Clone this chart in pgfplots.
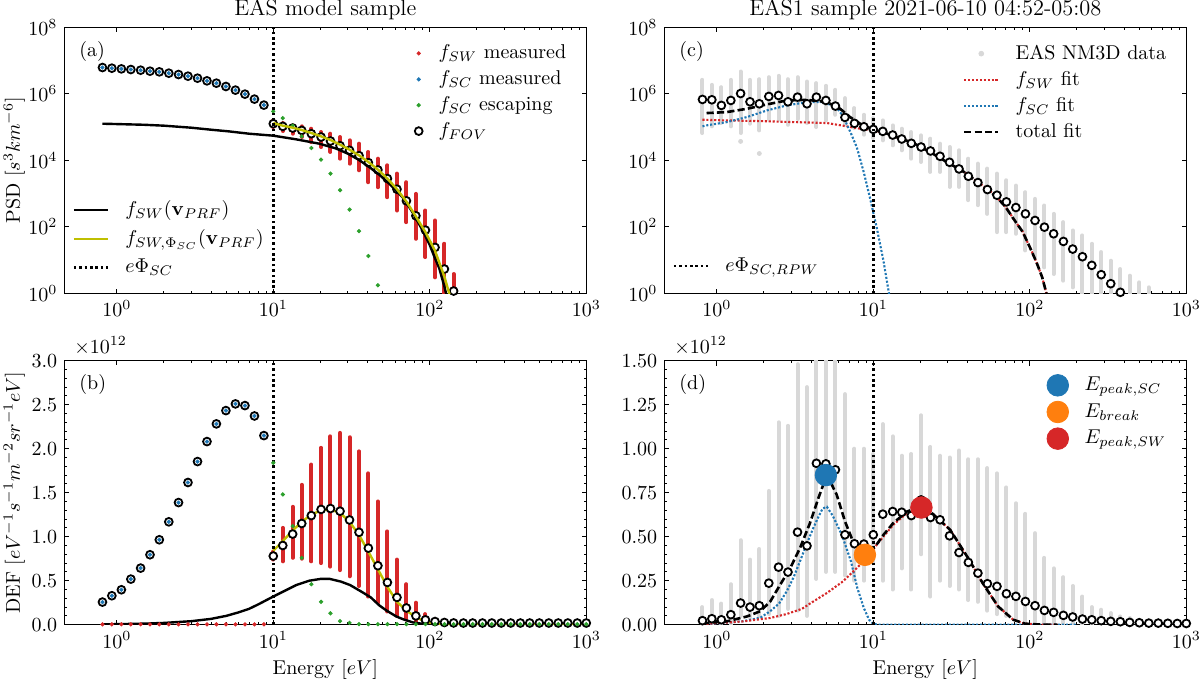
\documentclass[border=0pt]{standalone}
\usepackage{pgfplots}
\pgfplotsset{compat=1.18}
\definecolor{tabred}{RGB}{214,39,40}
\definecolor{tabblue}{RGB}{31,119,180}
\definecolor{tabgreen}{RGB}{44,160,44}
\definecolor{taborange}{RGB}{255,127,14}
\definecolor{yel}{RGB}{191,191,0}
\definecolor{lgrey}{RGB}{216,216,216}
\pgfplotsset{every axis/.append style={
   scale only axis, width=261pt, xmode=log, xmin=0.462, xmax=1000,
   xtick={1,10,100,1000}, tick align=inside,
   major tick length=2.4pt, minor tick length=1.3pt,
   every tick/.style={black, line width=0.5pt},
   axis line style={line width=0.6pt},
   tick label style={font=\normalsize},
   ylabel style={at={(-0.096,0.5)}, anchor=center},
   xlabel style={at={(0.5,0)}, anchor=center, yshift=-22.5pt},
   legend cell align=left,
   legend style={draw=none, fill=none, font=\normalsize, row sep=0.5pt, inner sep=0pt,
     /tikz/every odd column/.append style={column sep=6pt}}}}
\tikzset{
 myFov/.style={only marks, mark=*, mark size=1.95pt, mark options={fill=white, draw=black, line width=0.9pt}},
 myDot/.style={only marks, mark=*, mark size=0.85pt},
 myRedbar/.style={tabred, line width=2pt, line cap=round},
 myGreybar/.style={lgrey, line width=2pt, line cap=round},
 myRdot/.style={tabred, line width=1.05pt, dash pattern=on 1.05pt off 0.9pt},
 myBdot/.style={tabblue, line width=1.05pt, dash pattern=on 1.05pt off 0.9pt},
 myTdash/.style={black, line width=1.3pt, dash pattern=on 3.6pt off 1.6pt},
 myVdot/.style={black, line width=1.3pt, dash pattern=on 1.3pt off 1.4pt},
 myTitle/.style={anchor=base, font=\fontsize{11.2}{13}\selectfont},
}
\begin{document}
\begin{tikzpicture}
\useasboundingbox (0,0) rectangle (600pt,-339.5pt);

%%%%%%%%%%%%%%%%%%%% (a)
\begin{axis}[name=a, at={(32.15pt,-13.65pt)}, anchor=north west,
  height=133pt, ymode=log, ymin=1, ymax=1e8, ytick={1,1e2,1e4,1e6,1e8},
  ylabel={PSD $[s^3km^{-6}]$},
  legend style={at={(0.97,0.95)}, anchor=north east}]
\addplot[myRedbar, unbounded coords=jump, forget plot] coordinates {
(10,1.00e5) (10,1.58e5) (10,nan)
(11.5,7.59e4) (11.5,1.32e5) (11.5,nan)
(13.3,6.31e4) (13.3,1.12e5) (13.3,nan)
(15.2,5.01e4) (15.2,1.05e5) (15.2,nan)
(17.5,3.55e4) (17.5,8.91e4) (17.5,nan)
(20.2,2.51e4) (20.2,7.08e4) (20.2,nan)
(23.2,1.78e4) (23.2,6.31e4) (23.2,nan)
(26.7,1.12e4) (26.7,5.01e4) (26.7,nan)
(30.7,7.94e3) (30.7,3.98e4) (30.7,nan)
(35.3,5.01e3) (35.3,3.16e4) (35.3,nan)
(40.5,2.19e3) (40.5,1.78e4) (40.5,nan)
(46.6,1.55e3) (46.6,1.12e4) (46.6,nan)
(53.6,776) (53.6,7.08e3) (53.6,nan)
(61.7,309) (61.7,3.98e3) (61.7,nan)
(70.9,138) (70.9,2.19e3) (70.9,nan)
(81.5,43.7) (81.5,977) (81.5,nan)
(93.8,12.3) (93.8,309) (93.8,nan)
(108,3.02) (108,155) (108,nan)
(124,0.79) (124,30.9) (124,nan)
(142,0.32) (142,3.80)};
\addplot[myFov, forget plot] coordinates {
(0.81,6.17e6) (0.93,5.89e6) (1.07,5.62e6) (1.23,5.37e6) (1.42,5.13e6) (1.63,4.79e6)
(1.87,4.57e6) (2.15,4.17e6) (2.48,3.80e6) (2.85,3.39e6) (3.28,2.95e6) (3.77,2.45e6)
(4.33,2.09e6) (4.98,1.66e6) (5.73,1.29e6) (6.59,9.77e5) (7.58,6.92e5) (8.71,4.57e5)
(10.0,1.26e5) (11.5,1.05e5) (13.3,9.33e4) (15.2,7.94e4) (17.5,6.31e4) (20.2,5.01e4)
(23.2,3.80e4) (26.7,2.75e4) (30.7,2.00e4) (35.3,1.38e4) (40.5,8.51e3) (46.6,5.13e3)
(53.6,2.82e3) (61.7,1.35e3) (70.9,603) (81.5,214) (93.8,79.4) (108,24.0) (124,5.37) (142,1.17)};
\addplot[myDot, tabblue, forget plot] coordinates {
(0.81,6.17e6) (0.93,5.89e6) (1.07,5.62e6) (1.23,5.37e6) (1.42,5.13e6) (1.63,4.79e6)
(1.87,4.57e6) (2.15,4.17e6) (2.48,3.80e6) (2.85,3.39e6) (3.28,2.95e6) (3.77,2.45e6)
(4.33,2.09e6) (4.98,1.66e6) (5.73,1.29e6) (6.59,9.77e5) (7.58,6.92e5) (8.71,4.57e5)};
\addplot[myDot, tabgreen, forget plot] coordinates {
(10,2.95e5) (11.5,1.86e5) (13.3,1.10e5) (15.2,5.25e4) (17.5,2.34e4) (20.2,1.05e4)
(23.2,3.98e3) (26.7,1.26e3) (30.7,331) (35.3,74.1) (40.5,13.2) (46.6,1.74)};
\addlegendimage{myDot, tabred}\addlegendentry{$f_{SW}$ measured}
\addlegendimage{myDot, tabblue}\addlegendentry{$f_{SC}$ measured}
\addlegendimage{myDot, tabgreen}\addlegendentry{$f_{SC}$ escaping}
\addlegendimage{myFov}\addlegendentry{$f_{FOV}$}
\end{axis}
\begin{axis}[hide axis, at={(32.15pt,-13.65pt)}, anchor=north west,
  height=133pt, ymode=log, ymin=1, ymax=1e8,
  legend style={at={(0.015,0.05)}, anchor=south west, row sep=1.5pt}]
\addplot[black, line width=1.2pt] coordinates {
(0.81,1.26e5) (1.0,1.23e5) (1.5,1.17e5) (2,1.10e5) (3,9.55e4) (4,8.32e4) (5.2,7.41e4)
(7,6.31e4) (10,5.50e4) (14,4.27e4) (19.7,3.16e4) (25,2.29e4) (30,1.58e4) (35,1.05e4)
(41,6.31e3) (48,3.55e3) (55,2.00e3) (67,776) (78,263) (90,77.6) (100,28.2) (108,11.2)
(115,5.62) (124,1.58) (130,0.63) (135,0.3)};
\addlegendentry{$f_{SW}(\mathbf{v}_{PRF})$}
\addplot[yel, line width=1.2pt] coordinates {
(10,1.32e5) (11.5,1.10e5) (13.3,9.55e4) (15.2,8.13e4) (17.5,6.61e4) (20.2,5.25e4)
(23.2,4.07e4) (26.7,2.95e4) (30.7,2.09e4) (35.3,1.41e4) (40.5,8.91e3) (46.6,5.25e3)
(53.6,2.82e3) (61.7,1.35e3) (70.9,575) (81.5,204) (93.8,69.2) (108,19.1) (124,3.16)
(133,1.0) (140,0.4)};
\addlegendentry{$f_{SW,\Phi_{SC}}(\mathbf{v}_{PRF})$}
\addplot[myVdot] coordinates {(10,1) (10,1e8)};
\addlegendentry{$e\Phi_{SC}$}
\end{axis}
\node[anchor=north west] at ([xshift=4pt,yshift=-3.5pt]a.north west) {(a)};
\node[myTitle] at ([yshift=6pt]a.north) {EAS model sample};

%%%%%%%%%%%%%%%%%%%% (b)
\begin{axis}[name=b, at={(32.15pt,-180.35pt)}, anchor=north west, height=132pt,
  ymin=0, ymax=3, ytick={0,0.5,1,1.5,2,2.5,3}, minor y tick num=4,
  yticklabel style={/pgf/number format/.cd, fixed, fixed zerofill, precision=1},
  ylabel={DEF $[eV^{-1}s^{-1}m^{-2}sr^{-1}eV]$}, xlabel={Energy $[eV]$}]
\addplot[myRedbar, unbounded coords=jump, forget plot] coordinates {
(10,0.74) (10,0.83) (10,nan)
(11.5,0.72) (11.5,1.10) (11.5,nan)
(13.3,0.76) (13.3,1.34) (13.3,nan)
(15.2,0.75) (15.2,1.59) (15.2,nan)
(17.5,0.72) (17.5,1.82) (17.5,nan)
(20.2,0.70) (20.2,2.01) (20.2,nan)
(23.2,0.66) (23.2,2.14) (23.2,nan)
(26.7,0.62) (26.7,2.18) (26.7,nan)
(30.7,0.55) (30.7,2.13) (30.7,nan)
(35.3,0.44) (35.3,1.97) (35.3,nan)
(40.5,0.32) (40.5,1.72) (40.5,nan)
(46.6,0.25) (46.6,1.40) (46.6,nan)
(53.6,0.15) (53.6,1.06) (53.6,nan)
(61.7,0.10) (61.7,0.74) (61.7,nan)
(70.9,0.06) (70.9,0.46) (70.9,nan)
(81.5,0.03) (81.5,0.25) (81.5,nan)
(93.8,0.02) (93.8,0.12) (93.8,nan)
(108,0.01) (108,0.06) (108,nan)
(124,0.005) (124,0.03)};
\addplot[myDot, tabred, forget plot] coordinates {
(0.81,0.004) (0.93,0.004) (1.07,0.004) (1.23,0.004) (1.42,0.004) (1.63,0.004)
(1.87,0.004) (2.15,0.004) (2.48,0.004) (2.85,0.004) (3.28,0.004) (3.77,0.004)
(4.33,0.004) (4.98,0.004) (5.73,0.004) (6.59,0.004) (7.58,0.004) (8.71,0.004)};
\addplot[myFov, forget plot] coordinates {
(0.81,0.257) (0.93,0.329) (1.07,0.397) (1.23,0.518) (1.42,0.643) (1.63,0.795)
(1.87,0.965) (2.15,1.169) (2.48,1.388) (2.85,1.616) (3.28,1.854) (3.77,2.081)
(4.33,2.282) (4.98,2.433) (5.73,2.509) (6.59,2.490) (7.58,2.372) (8.71,2.149)
(10,0.78) (11.5,0.90) (13.3,1.03) (15.2,1.15) (17.5,1.24) (20.2,1.31) (23.2,1.32)
(26.7,1.29) (30.7,1.19) (35.3,1.05) (40.5,0.87) (46.6,0.67) (53.6,0.48) (61.7,0.31)
(70.9,0.19) (81.5,0.10) (93.8,0.055) (108,0.036) (124,0.025) (142,0.02) (164,0.019)
(188,0.019) (217,0.019) (249,0.019) (286,0.019) (329,0.019) (379,0.019) (435,0.019)
(501,0.019) (576,0.019) (662,0.019) (762,0.019) (876,0.019) (1000,0.019)};
\addplot[myDot, tabblue, forget plot] coordinates {
(0.81,0.257) (0.93,0.329) (1.07,0.397) (1.23,0.518) (1.42,0.643) (1.63,0.795)
(1.87,0.965) (2.15,1.169) (2.48,1.388) (2.85,1.616) (3.28,1.854) (3.77,2.081)
(4.33,2.282) (4.98,2.433) (5.73,2.509) (6.59,2.490) (7.58,2.372) (8.71,2.149)};
\addplot[myDot, tabgreen, forget plot] coordinates {
(10,1.84) (11.5,1.48) (13.3,1.12) (15.2,0.76) (17.5,0.46) (20.2,0.26) (23.2,0.13)
(26.7,0.04) (30.7,0.02) (35.3,0.006) (40.5,0.006) (46.6,0.006) (53.6,0.006) (61.7,0.006)
(70.9,0.006) (81.5,0.006) (93.8,0.006) (108,0.006) (124,0.006) (142,0.006) (164,0.006)
(188,0.006) (217,0.006) (249,0.006) (286,0.006) (329,0.006) (379,0.006) (435,0.006)
(501,0.006) (576,0.006) (662,0.006) (762,0.006) (876,0.006) (1000,0.006)};
\addplot[black, line width=1.2pt, forget plot] coordinates {
(0.81,0.004) (1.0,0.006) (1.5,0.012) (2,0.02) (3,0.04) (4,0.066) (5,0.10) (6,0.14)
(7,0.18) (8,0.23) (10,0.32) (12,0.39) (14,0.45) (17,0.50) (20,0.52) (23,0.52) (27,0.49)
(31,0.45) (37,0.37) (42,0.31) (47.5,0.22) (53,0.16) (61,0.094) (68,0.06) (78,0.026)
(90,0.01) (110,0.002) (150,0) (1000,0)};
\addplot[yel, line width=1.2pt, forget plot] coordinates {
(10,0.84) (11.5,0.95) (13.3,1.07) (15.2,1.17) (17.5,1.25) (20.2,1.30) (23.2,1.31)
(26.7,1.27) (30.7,1.17) (35.3,1.02) (40.5,0.83) (46.6,0.63) (53.6,0.43) (61.7,0.26)
(70.9,0.16) (81.5,0.085) (93.8,0.035) (108,0.01) (130,0) (1000,0)};
\addplot[myVdot, forget plot] coordinates {(10,0) (10,3)};
\end{axis}
\node[anchor=north west] at ([xshift=4pt,yshift=-3.5pt]b.north west) {(b)};
\node[anchor=base west] at ([xshift=1.5pt,yshift=3.8pt]b.north west) {$\times10^{12}$};

%%%%%%%%%%%%%%%%%%%% (c)
\begin{axis}[name=c, at={(332.15pt,-13.65pt)}, anchor=north west,
  height=133pt, ymode=log, ymin=1, ymax=1e8, ytick={1,1e2,1e4,1e6,1e8},
  legend style={at={(0.97,0.95)}, anchor=north east}]
\addplot[myGreybar, unbounded coords=jump, forget plot] coordinates {
(0.81,6.61e4) (0.81,2.63e6) (0.81,nan)
(0.93,1.05e5) (0.93,1.86e6) (0.93,nan)
(1.07,1.32e5) (1.07,1.58e6) (1.07,nan)
(1.23,1.05e5) (1.23,2.63e6) (1.23,nan)
(1.42,6.61e4) (1.42,4.68e6) (1.42,nan)
(1.63,1.26e5) (1.63,2.63e6) (1.63,nan)
(1.87,7.94e4) (1.87,2.75e6) (1.87,nan)
(2.15,1.66e5) (2.15,3.16e6) (2.15,nan)
(2.48,1.66e5) (2.48,3.47e6) (2.48,nan)
(2.85,1.17e5) (2.85,2.75e6) (2.85,nan)
(3.28,1.74e5) (3.28,3.16e6) (3.28,nan)
(3.77,1.32e5) (3.77,2.34e6) (3.77,nan)
(4.33,1.00e5) (4.33,2.09e6) (4.33,nan)
(4.98,1.58e5) (4.98,1.74e6) (4.98,nan)
(5.73,2.34e5) (5.73,1.32e6) (5.73,nan)
(6.59,1.17e5) (6.59,7.41e5) (6.59,nan)
(7.58,9.33e4) (7.58,3.72e5) (7.58,nan)
(8.71,5.89e4) (8.71,2.34e5) (8.71,nan)
(10.0,4.68e4) (10.0,1.86e5) (10.0,nan)
(11.5,3.98e4) (11.5,1.58e5) (11.5,nan)
(13.3,2.82e4) (13.3,1.12e5) (13.3,nan)
(15.2,2.00e4) (15.2,8.91e4) (15.2,nan)
(17.5,1.12e4) (17.5,7.08e4) (17.5,nan)
(20.2,8.91e3) (20.2,5.62e4) (20.2,nan)
(23.2,4.47e3) (23.2,4.47e4) (23.2,nan)
(26.7,4.47e3) (26.7,3.16e4) (26.7,nan)
(30.7,1.58e3) (30.7,2.51e4) (30.7,nan)
(35.3,1.58e3) (35.3,2.00e4) (35.3,nan)
(40.5,631) (40.5,1.12e4) (40.5,nan)
(46.6,447) (46.6,7.94e3) (46.6,nan)
(53.6,245) (53.6,5.62e3) (53.6,nan)
(61.7,69.2) (61.7,3.98e3) (61.7,nan)
(70.9,69.2) (70.9,2.51e3) (70.9,nan)
(81.5,61.7) (81.5,1.74e3) (81.5,nan)
(93.8,19.5) (93.8,1.10e3) (93.8,nan)
(108,12.3) (108,692) (108,nan)
(124,6.03) (124,437) (124,nan)
(142,3.80) (142,245) (142,nan)
(164,2.40) (164,138) (164,nan)
(188,1.51) (188,77.6) (188,nan)
(217,0.6) (217,55.0) (217,nan)
(249,0.6) (249,30.9) (249,nan)
(286,0.6) (286,17.4) (286,nan)
(329,0.6) (329,9.55) (329,nan)
(379,0.6) (379,5.37) (379,nan)
(435,0.6) (435,3.39) (435,nan)
(501,0.6) (501,2.14) (501,nan)
(576,0.6) (576,1.51)};
\addplot[only marks, mark=*, mark size=1pt, lgrey, forget plot] coordinates {(1.42,3.7e4) (1.87,1.6e4)};
\addplot[myFov, forget plot] coordinates {
(0.81,6.76e5) (0.93,6.61e5) (1.07,4.47e5) (1.23,6.31e5) (1.42,1.02e6) (1.63,5.75e5)
(1.87,5.01e5) (2.15,8.32e5) (2.48,8.91e5) (2.85,5.75e5) (3.28,7.94e5) (3.77,5.01e5)
(4.33,7.94e5) (4.98,6.31e5) (5.73,4.27e5) (6.59,1.95e5) (7.58,1.29e5) (8.71,1.02e5)
(10.0,8.51e4) (11.5,7.41e4) (13.3,5.75e4) (15.2,4.37e4) (17.5,3.24e4) (20.2,2.51e4)
(23.2,1.91e4) (26.7,1.32e4) (30.7,8.71e3) (35.3,5.50e3) (40.5,3.31e3) (46.6,2.14e3)
(53.6,1.32e3) (61.7,891) (70.9,562) (81.5,380) (93.8,245) (108,155) (124,97.7)
(142,61.7) (164,36.3) (188,21.4) (217,12.6) (249,6.92) (286,3.63) (329,1.95) (379,1.07)};
\addplot[myRdot, forget plot] coordinates {
(0.81,1.66e5) (1.16,1.58e5) (1.9,1.51e5) (3.1,1.41e5) (5.05,1.32e5) (6.4,1.10e5)
(8.24,8.91e4) (10,7.94e4) (11.5,6.92e4) (14,5.01e4) (18,3.31e4) (23,1.78e4) (29.4,8.91e3)
(38,4.47e3) (48.2,1.95e3) (55,1.26e3) (61.5,776) (70,398) (78.7,174) (90,70.8) (100,24.5)
(110,8.91) (120,3.02) (128,0.955) (135,0.398)};
\addplot[myBdot, forget plot] coordinates {
(0.81,1.05e5) (0.86,1.12e5) (1.16,1.41e5) (1.56,2.00e5) (2.09,3.16e5) (2.8,4.47e5)
(3.76,5.62e5) (4.8,5.62e5) (5.8,3.98e5) (6.2,2.63e5) (6.6,1.58e5) (7.2,6.46e4)
(7.85,2.45e4) (8.65,4.79e3) (9.5,776) (10.5,97.7) (11.6,9.77) (12.5,1.23) (13,0.398)};
\addplot[myTdash, forget plot] coordinates {
(0.86,2.63e5) (1.16,2.82e5) (1.56,3.55e5) (2.09,4.79e5) (2.8,6.31e5) (3.76,6.61e5)
(5.05,5.62e5) (6.14,3.55e5) (7.1,2.00e5) (8.24,1.26e5) (10,8.32e4) (11.5,7.08e4)
(14,5.01e4) (18,3.31e4) (23,1.78e4) (29.4,8.91e3) (38,4.47e3) (48.2,1.95e3) (55,1.26e3)
(61.5,776) (70,398) (78.7,174) (90,70.8) (100,24.5) (110,8.91) (120,3.02) (128,0.955)
(135,0.398)};
\addlegendimage{only marks, mark=*, mark size=1.2pt, lgrey}\addlegendentry{EAS NM3D data}
\addlegendimage{myRdot}\addlegendentry{$f_{SW}$ fit}
\addlegendimage{myBdot}\addlegendentry{$f_{SC}$ fit}
\addlegendimage{myTdash}\addlegendentry{total fit}
\end{axis}
\begin{axis}[hide axis, at={(332.15pt,-13.65pt)}, anchor=north west,
  height=133pt, ymode=log, ymin=1, ymax=1e8,
  legend style={at={(0.015,0.055)}, anchor=south west}]
\addplot[myVdot] coordinates {(10,1) (10,1e8)};
\addlegendentry{$e\Phi_{SC,RPW}$}
\end{axis}
\node[anchor=north west] at ([xshift=4pt,yshift=-3.5pt]c.north west) {(c)};
\node[myTitle] at ([yshift=6pt]c.north) {EAS1 sample 2021-06-10 04:52-05:08};

%%%%%%%%%%%%%%%%%%%% (d)
\begin{axis}[name=d, at={(332.15pt,-180.35pt)}, anchor=north west, height=132pt,
  ymin=0, ymax=1.5, ytick={0,0.25,0.5,0.75,1,1.25,1.5}, minor y tick num=4,
  yticklabel style={/pgf/number format/.cd, fixed, fixed zerofill, precision=2},
  xlabel={Energy $[eV]$},
  legend style={at={(0.97,0.955)}, anchor=north east, row sep=1pt}]
\addplot[myGreybar, unbounded coords=jump, forget plot] coordinates {
(0.81,0) (0.81,0.10) (0.81,nan)
(0.93,0) (0.93,0.14) (0.93,nan)
(1.07,0) (1.07,0.12) (1.07,nan)
(1.23,0) (1.23,0.23) (1.23,nan)
(1.42,0.05) (1.42,0.48) (1.42,nan)
(1.63,0.04) (1.63,0.37) (1.63,nan)
(1.87,0.05) (1.87,0.43) (1.87,nan)
(2.15,0.06) (2.15,0.76) (2.15,nan)
(2.48,0.05) (2.48,1.15) (2.48,nan)
(2.85,0.09) (2.85,1.13) (2.85,nan)
(3.28,0.08) (3.28,1.48) (3.28,nan)
(3.77,0.05) (3.77,1.35) (3.77,nan)
(4.33,0.26) (4.33,1.6) (4.33,nan)
(4.98,0.30) (4.98,1.6) (4.98,nan)
(5.73,0.30) (5.73,1.6) (5.73,nan)
(6.59,0.28) (6.59,1.31) (6.59,nan)
(7.58,0.25) (7.58,1.0) (7.58,nan)
(8.71,0.25) (8.71,1.0) (8.71,nan)
(10.0,0.35) (10.0,0.97) (10.0,nan)
(11.5,0.25) (11.5,1.14) (11.5,nan)
(13.3,0.20) (13.3,1.07) (13.3,nan)
(15.2,0.32) (15.2,0.96) (15.2,nan)
(17.5,0.20) (17.5,0.97) (17.5,nan)
(20.2,0.40) (20.2,1.19) (20.2,nan)
(23.2,0.16) (23.2,1.01) (23.2,nan)
(26.7,0.25) (26.7,0.96) (26.7,nan)
(30.7,0.22) (30.7,0.95) (30.7,nan)
(35.3,0.20) (35.3,0.99) (35.3,nan)
(40.5,0.14) (40.5,0.94) (40.5,nan)
(46.6,0.13) (46.6,0.94) (46.6,nan)
(53.6,0.08) (53.6,0.89) (53.6,nan)
(61.7,0.06) (61.7,0.86) (61.7,nan)
(70.9,0.05) (70.9,0.78) (70.9,nan)
(81.5,0.03) (81.5,0.69) (81.5,nan)
(93.8,0.02) (93.8,0.63) (93.8,nan)
(108,0.01) (108,0.52) (108,nan)
(124,0) (124,0.38) (124,nan)
(142,0) (142,0.32) (142,nan)
(164,0) (164,0.27) (164,nan)
(188,0) (188,0.22) (188,nan)
(217,0) (217,0.16) (217,nan)
(249,0) (249,0.10) (249,nan)
(286,0) (286,0.085) (286,nan)
(329,0) (329,0.066) (329,nan)
(379,0) (379,0.047) (379,nan)
(435,0) (435,0.038) (435,nan)
(501,0) (501,0.028) (501,nan)
(576,0) (576,0.019) (576,nan)
(662,0) (662,0.012) (662,nan)
(762,0) (762,0.01) (762,nan)
(876,0) (876,0.01)};
\addplot[myFov, forget plot] coordinates {
(0.81,0.023) (0.93,0.034) (1.07,0.028) (1.23,0.057) (1.42,0.123) (1.63,0.100)
(1.87,0.108) (2.15,0.236) (2.48,0.327) (2.85,0.299) (3.28,0.526) (3.77,0.448)
(4.33,0.917) (4.98,0.914) (5.73,0.880) (6.59,0.511) (7.58,0.460) (8.71,0.458)
(10.0,0.511) (11.5,0.628) (13.3,0.643) (15.2,0.639) (17.5,0.620) (20.2,0.709)
(23.2,0.609) (26.7,0.596) (30.7,0.505) (35.3,0.410) (40.5,0.354) (46.6,0.293)
(53.6,0.233) (61.7,0.218) (70.9,0.176) (81.5,0.161) (93.8,0.132) (108,0.108)
(124,0.081) (142,0.070) (164,0.053) (188,0.044) (217,0.032) (249,0.028) (286,0.023)
(329,0.019) (379,0.017) (435,0.013) (501,0.011) (576,0.009) (662,0.009) (762,0.008)
(876,0.007) (1000,0.007)};
\addplot[myBdot, forget plot] coordinates {
(0.81,0.003) (1.0,0.007) (1.48,0.02) (1.9,0.04) (2.19,0.076) (2.5,0.12) (2.8,0.19)
(3.1,0.27) (3.4,0.36) (3.76,0.46) (4.14,0.55) (4.5,0.62) (4.75,0.66) (5.05,0.67)
(5.5,0.62) (6.3,0.51) (7.2,0.36) (7.9,0.21) (8.7,0.095) (9.4,0.028) (10.0,0.004)
(11,0) (200,0)};
\addplot[myRdot, forget plot] coordinates {
(0.81,0.004) (1.0,0.008) (1.48,0.019) (2.19,0.038) (2.78,0.06) (3.5,0.09) (3.94,0.12)
(5.05,0.18) (6.4,0.246) (7.8,0.32) (9.1,0.378) (10.5,0.454) (13.4,0.567) (16.4,0.634)
(20.4,0.67) (23.5,0.637) (31,0.539) (41,0.369) (50,0.236) (62.7,0.104) (78.5,0.028)
(93,0.006) (120,0) (150,0)};
\addplot[myTdash, forget plot] coordinates {
(0.81,0.008) (1.16,0.019) (1.56,0.047) (1.89,0.076) (2.19,0.13) (2.54,0.227) (2.94,0.32)
(3.40,0.435) (3.94,0.577) (4.46,0.72) (5.0,0.84) (5.4,0.80) (5.84,0.738) (6.60,0.586)
(7.29,0.49) (8.24,0.426) (9.09,0.407) (10.3,0.445) (11.6,0.51) (13.4,0.577) (16.4,0.643)
(20.4,0.672) (23.5,0.637) (31,0.539) (41,0.369) (50,0.236) (62.7,0.104) (78.5,0.028)
(93,0.006) (120,0) (150,0)};
\addplot[myVdot, forget plot] coordinates {(10,0) (10,1.5)};
\addplot[only marks, mark=*, mark size=5.4pt, tabblue, forget plot] coordinates {(4.98,0.85)};
\addplot[only marks, mark=*, mark size=5.4pt, taborange, forget plot] coordinates {(8.84,0.397)};
\addplot[only marks, mark=*, mark size=5.4pt, tabred, forget plot] coordinates {(20.3,0.666)};
\addlegendimage{only marks, mark=*, mark size=5.4pt, tabblue}\addlegendentry{$E_{peak,SC}$}
\addlegendimage{only marks, mark=*, mark size=5.4pt, taborange}\addlegendentry{$E_{break}$}
\addlegendimage{only marks, mark=*, mark size=5.4pt, tabred}\addlegendentry{$E_{peak,SW}$}
\end{axis}
\node[anchor=north west] at ([xshift=4pt,yshift=-3.5pt]d.north west) {(d)};
\node[anchor=base west] at ([xshift=1.5pt,yshift=3.8pt]d.north west) {$\times10^{12}$};
\end{tikzpicture}
\end{document}
